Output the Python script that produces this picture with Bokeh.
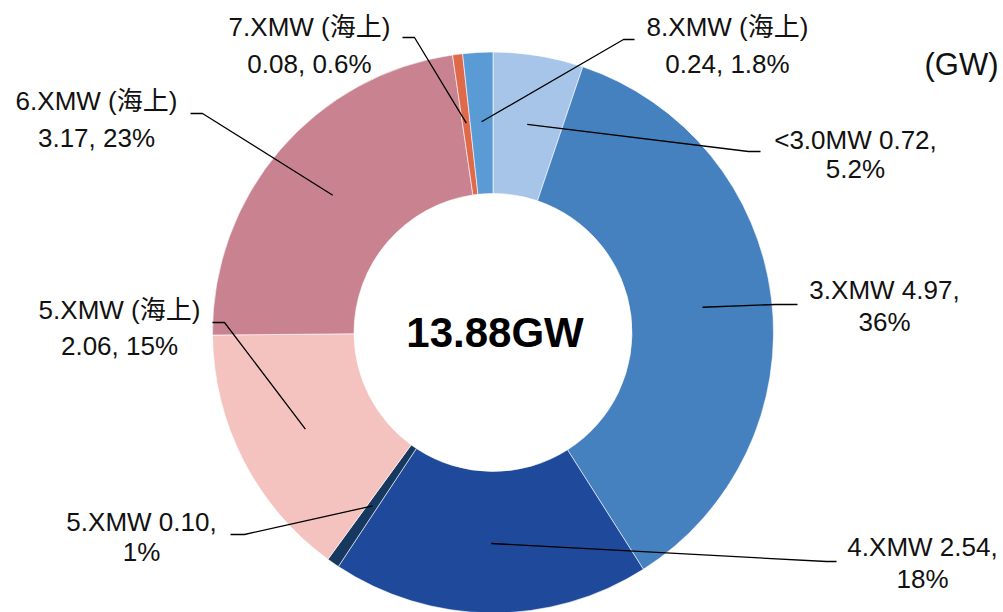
import math
from bokeh.plotting import figure
from bokeh.models import Range1d, ColumnDataSource
from bokeh.core.properties import value
from bokeh.embed import file_html
from bokeh.resources import INLINE

# ---- data ----
categories = ["<3.0MW", "3.XMW", "4.XMW", "5.XMW", "5.XMW (海上)", "6.XMW (海上)", "7.XMW (海上)", "8.XMW (海上)"]
values = [0.72, 4.97, 2.54, 0.10, 2.06, 3.17, 0.08, 0.24]
pct_labels = ["5.2%", "36%", "18%", "1%", "15%", "23%", "0.6%", "1.8%"]
offshore = [False, False, False, False, True, True, True, True]
unit_label = "(GW)"

# ---- style / layout ----
colors = ["#A7C5E8", "#4580BF", "#1F4A9C", "#17395F", "#F4C3BF", "#C98290", "#E0694A", "#5B9BD5"]
W, H = 1003, 612
CX, CY_PIX = 492.5, 332
R_OUT, R_IN = 280.5, 139
R_MID = 211
FONT = "Liberation Sans, Noto Sans CJK SC"

# label layout (pixel coords, y down): x centre, line1 y, line2 y
lab_x = [855, 884, 922, 141, 119, 96, 309, 727]
lab_y1 = [139, 289, 546, 521, 309, 100, 26, 26]
lab_y2 = [168, 321, 578, 551, 345, 137, 63, 63]
# leader start (next to label) and elbow (pixel coords)
lead_sx = [760, 797, 836, 230, 212, 190, 402, 634]
lead_ex = [748, 775, 826, 244, 224, 202, 414, 623]
lead_y = [151, 304, 561, 534, 322, 113, 37, 39]


def Y(ypix):
    return H - ypix


p = figure(width=W, height=H, x_range=Range1d(0, W), y_range=Range1d(0, H),
           output_backend="svg", toolbar_location=None, min_border=0,
           background_fill_color="white", border_fill_color="white")
p.axis.visible = False
p.grid.visible = False
p.outline_line_color = None

total = sum(values)
cum = [0.0]
for v in values:
    cum.append(cum[-1] + v)
starts = [math.pi / 2 - 2 * math.pi * cum[i + 1] / total for i in range(len(values))]
ends = [math.pi / 2 - 2 * math.pi * cum[i] / total for i in range(len(values))]

src = ColumnDataSource(dict(x=[CX] * len(values), y=[Y(CY_PIX)] * len(values),
                            start=starts, end=ends, color=colors))
p.annular_wedge(x="x", y="y", inner_radius=R_IN, outer_radius=R_OUT,
                start_angle="start", end_angle="end", direction="anticlock",
                fill_color="color", line_color="white", line_width=0.6, source=src)

# leader lines
xs, ys = [], []
for i in range(len(values)):
    mid = 2 * math.pi * (cum[i] + values[i] / 2) / total  # clockwise from top
    px = CX + R_MID * math.sin(mid)
    py = Y(CY_PIX) + R_MID * math.cos(mid)
    xs.append([lead_sx[i], lead_ex[i], px])
    ys.append([Y(lead_y[i]), Y(lead_y[i]), py])
p.multi_line(xs, ys, line_color="black", line_width=1.3)

# labels
line1, line2 = [], []
for c, v, pc, off in zip(categories, values, pct_labels, offshore):
    if off:
        line1.append(c)
        line2.append(f"{v:.2f}, {pc}")
    else:
        line1.append(f"{c} {v:.2f},")
        line2.append(pc)

p.text(x=lab_x, y=[Y(v) for v in lab_y1], text=line1, text_align="center",
       text_baseline="middle", text_font=value(FONT), text_font_size="26px",
       text_color="#111111")
p.text(x=lab_x, y=[Y(v) for v in lab_y2], text=line2, text_align="center",
       text_baseline="middle", text_font=value(FONT), text_font_size="26px",
       text_color="#111111")

# centre total
p.text(x=[CX + 2], y=[Y(CY_PIX)], text=[f"{total:.2f}GW"], text_align="center",
       text_baseline="middle", text_font=value(FONT), text_font_size="42px",
       text_font_style="bold", text_color="#000000")

# unit
p.text(x=[961], y=[Y(64)], text=[unit_label], text_align="center",
       text_baseline="middle", text_font=value(FONT), text_font_size="31px",
       text_color="#111111")

open("out.html", "w").write(file_html(p, INLINE))
